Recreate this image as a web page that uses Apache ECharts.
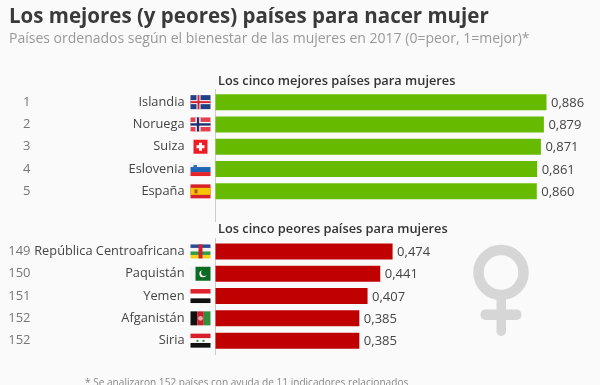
<!DOCTYPE html>
<html><head><meta charset="utf-8">
<style>html,body{margin:0;padding:0;background:#fafafa}#c{width:600px;height:385px}</style>
<script src="https://cdn.jsdelivr.net/npm/echarts@6/dist/echarts.min.js"></script>
</head><body><div id="c"></div>
<script>
const bestCountries=['Islandia','Noruega','Suiza','Eslovenia','España'];
const bestRanks=['1','2','3','4','5'];
const bestValues=[0.886,0.879,0.871,0.861,0.860];
const worstCountries=['República Centroafricana','Paquistán','Yemen','Afganistán','Siria'];
const worstRanks=['149','150','151','152','152'];
const worstValues=[0.474,0.441,0.407,0.385,0.385];
const titleText='Los mejores (y peores) países para nacer mujer';
const subtitleText='Países ordenados según el bienestar de las mujeres en 2017 (0=peor, 1=mejor)*';
const bestHeader='Los cinco mejores países para mujeres';
const worstHeader='Los cinco peores países para mujeres';
const footnote='* Se analizaron 152 países con ayuda de 11 indicadores relacionados';

const FONT='"Open Sans"';
function R(x,y,w,h,c){return {type:'rect',shape:{x,y,width:w,height:h},style:{fill:c}};}
const flags={
 Islandia:(x,y)=>[R(x,y,20,14,'#1f3f86'),R(x+6,y,4,14,'#fff'),R(x,y+5,20,4,'#fff'),R(x+7,y,2,14,'#d8232f'),R(x,y+6,20,2,'#d8232f')],
 Noruega:(x,y)=>[R(x,y,20,14,'#e5404e'),R(x+5,y,5,14,'#fff'),R(x,y+4.5,20,5,'#fff'),R(x+6.3,y,2.4,14,'#1d2f6f'),R(x,y+5.8,20,2.4,'#1d2f6f')],
 Suiza:(x,y)=>[R(x+3,y,14,14,'#ee1c25'),R(x+8.5,y+3,3,8,'#fff'),R(x+6,y+5.5,8,3,'#fff')],
 Eslovenia:(x,y)=>[R(x,y,20,14,'#f1f1f4'),R(x,y+5,20,5,'#1e63b5'),R(x,y+10,20,4,'#e5232b'),R(x+3,y+3,3.5,4,'#2d6cb8')],
 'España':(x,y)=>[R(x,y,20,14,'#d8222a'),R(x,y+3.5,20,7,'#f7c400'),R(x+4,y+5,3,4,'#b5512a')],
 'República Centroafricana':(x,y)=>[R(x,y,20,3.5,'#2a4a9a'),R(x,y+3.5,20,3.5,'#f1f1f1'),R(x,y+7,20,3.5,'#2f9b45'),R(x,y+10.5,20,3.5,'#f2d21a'),R(x+8,y,4,14,'#d0202c')],
 'Paquistán':(x,y)=>[R(x,y,5,14,'#f3f3f3'),R(x+5,y,15,14,'#0b6b22'),{type:'circle',shape:{cx:x+12.5,cy:y+7,r:3.6},style:{fill:'#fff'}},{type:'circle',shape:{cx:x+13.8,cy:y+6,r:3.2},style:{fill:'#0b6b22'}}],
 Yemen:(x,y)=>[R(x,y,20,4.7,'#e0202c'),R(x,y+4.7,20,4.6,'#fff'),R(x,y+9.3,20,4.7,'#111')],
 'Afganistán':(x,y)=>[R(x,y,6.7,14,'#111'),R(x+6.7,y,6.6,14,'#c8202a'),R(x+13.3,y,6.7,14,'#2f8f3a'),{type:'circle',shape:{cx:x+10,cy:y+7,r:2.4},style:{fill:'#e8a9a0'}}],
 Siria:(x,y)=>[R(x,y,20,4.7,'#d8202a'),R(x,y+4.7,20,4.6,'#fff'),R(x,y+9.3,20,4.7,'#111'),R(x+6,y+6.2,2,2,'#2a8a50'),R(x+12,y+6.2,2,2,'#2a8a50')]
};
function flagSeries(axisIndex,names){
 return {type:'custom',xAxisIndex:axisIndex,yAxisIndex:axisIndex*2,clip:false,silent:true,
  data:names.map((n,i)=>[0,i]),encode:{x:0,y:1},
  renderItem:(p,api)=>{const c=api.coord([0,api.value(1)]);
   return {type:'group',children:flags[names[api.value(1)]](c[0]-25,c[1]-7)};}};
}
function barSeries(axisIndex,values,color){
 return {type:'bar',xAxisIndex:axisIndex,yAxisIndex:axisIndex*2,data:values,barWidth:16,
  itemStyle:{color},silent:true,
  label:{show:true,position:'right',distance:4.5,offset:[0,1],color:'#444',fontFamily:FONT,fontSize:13,
   formatter:p=>p.value.toFixed(3).replace('.',',')}};
}
function yAxes(gridIndex,names,ranks){
 const base={type:'category',inverse:true,gridIndex,axisTick:{show:false},splitLine:{show:false}};
 return [
  {...base,data:names,position:'left',axisLine:{show:true,lineStyle:{color:'#ccc',width:1}},
   axisLabel:{margin:31,color:'#444',fontFamily:FONT,fontSize:12.8}},
  {...base,data:ranks,position:'left',axisLine:{show:false},
   axisLabel:{margin:185,color:'#777',fontFamily:FONT,fontSize:13}}
 ];
}
const xBase={type:'value',min:0,max:1,show:false,splitLine:{show:false}};
const chart=echarts.init(document.getElementById('c'),null,{renderer:'canvas'});
chart.setOption({
 animation:false,backgroundColor:'#fafafa',
 title:[
  {text:titleText,left:9,top:7,padding:0,textStyle:{fontFamily:FONT,fontWeight:'bold',fontSize:20.5,color:'#3a3a3a'}},
  {text:subtitleText,left:9,top:32,padding:0,textStyle:{fontFamily:FONT,fontWeight:'normal',fontSize:14,color:'#999'}},
  {text:bestHeader,left:218,top:75,padding:0,textStyle:{fontFamily:FONT,fontWeight:600,fontSize:12.8,color:'#333'}},
  {text:worstHeader,left:218,top:223,padding:0,textStyle:{fontFamily:FONT,fontWeight:600,fontSize:12.8,color:'#333'}},
  {text:footnote,left:85,top:378,padding:0,textStyle:{fontFamily:FONT,fontWeight:'normal',fontSize:10.1,color:'#888'}}
 ],
 grid:[
  {left:215.5,top:91,width:373.6,height:111.5},
  {left:215.5,top:240.3,width:373.6,height:111.5}
 ],
 xAxis:[{...xBase,gridIndex:0},{...xBase,gridIndex:1}],
 yAxis:[...yAxes(0,bestCountries,bestRanks),...yAxes(1,worstCountries,worstRanks)],
 series:[
  barSeries(0,bestValues,'#66bb00'),
  barSeries(1,worstValues,'#c00000'),
  flagSeries(0,bestCountries),
  flagSeries(1,worstCountries)
 ],
 graphic:[
  {type:'line',shape:{x1:215.5,y1:89,x2:215.5,y2:222},style:{stroke:'#ccc',lineWidth:1},silent:true},
  {type:'line',shape:{x1:215.5,y1:238,x2:215.5,y2:355},style:{stroke:'#ccc',lineWidth:1},silent:true},
  {type:'circle',shape:{cx:501,cy:272.5,r:22.5},style:{fill:'none',stroke:'#d6d6d6',lineWidth:10.5},silent:true},
  {type:'rect',shape:{x:496.5,y:295,width:9.5,height:41,r:4.7},style:{fill:'#d6d6d6'},silent:true},
  {type:'rect',shape:{x:480.5,y:309.5,width:41,height:10.5,r:5},style:{fill:'#d6d6d6'},silent:true}
 ]
});
</script></body></html>
